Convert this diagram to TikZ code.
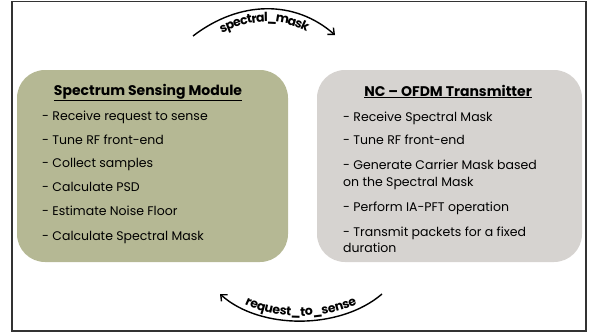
\documentclass[tikz,border=0pt]{standalone}
\usepackage{fontspec}
\setmainfont{Poppins}
\usetikzlibrary{arrows.meta,decorations.text}
\definecolor{olivebox}{HTML}{B5B894}
\definecolor{graybox}{HTML}{D6D3D0}
\definecolor{framegray}{HTML}{333333}
\tikzset{
  modbox/.style={draw=none, rounded corners=28pt},
  body/.style={anchor=base west, inner sep=0pt, font=\fontsize{12.5}{16}\selectfont},
  title/.style={anchor=base, inner sep=0pt, font=\bfseries\fontsize{14}{16}\selectfont},
  arcline/.style={line width=1.4pt, -{Straight Barb[length=5pt,width=9pt,line width=1.4pt]}},
  arctext/.style={decorate, decoration={text along path, text align=center,
     text format delimiters={[}{]}}},
}
\begin{document}
\begin{tikzpicture}[x=1pt,y=1pt]
\useasboundingbox (0,0) rectangle (594,333);
\draw[framegray, line width=1.6pt] (12,2) rectangle (586,331.5);
% boxes
\fill[olivebox, modbox] (17,71) rectangle (288,263);
\fill[graybox, modbox] (317,71) rectangle (582,263);
% titles
\node[title] (t1) at (148,238) {\underline{Spectrum Sensing Module}};
\node[title] (t2) at (448,237) {\underline{NC – OFDM Transmitter}};
% left list
\node[body] (a1) at (42,213) {- Receive request to sense};
\node[body] (a2) at (42,189) {- Tune RF front-end};
\node[body] (a3) at (42,166) {- Collect samples};
\node[body] (a4) at (42,142) {- Calculate PSD};
\node[body] (a5) at (42,118) {- Estimate Noise Floor};
\node[body] (a6) at (42,93) {- Calculate Spectral Mask};
% right list
\node[body] (b1) at (343,212) {- Receive Spectral Mask};
\node[body] (b2) at (343,189) {- Tune RF front-end};
\node[body] (b3) at (343,164) {- Generate Carrier Mask based};
\node[body] (b3b) at (343,147) {on the Spectral Mask};
\node[body] (b4) at (343,122) {- Perform IA-PFT operation};
\node[body] (b5) at (343,97) {- Transmit packets for a fixed};
\node[body] (b5b) at (343,81) {duration};
% arcs
\coordinate (s1) at (193,297);
\coordinate (s2) at (335,298);
\coordinate (r1) at (382,39);
\coordinate (r2) at (220,39);
\draw[arcline] (s1) .. controls (240,333) and (295,333) .. (s2);
\path[arctext, decoration={raise=-13pt,
  text={[\bfseries\fontsize{12.5}{13}\selectfont]spectral{\_}mask}}]
  (s1) .. controls (240,333) and (295,333) .. (s2);
\draw[arcline] (r1) .. controls (340,3) and (260,3) .. (r2);
\path[arctext, decoration={raise=5pt,
  text={[\bfseries\fontsize{12.5}{13}\selectfont]request{\_}to{\_}sense}}]
  (r2) .. controls (260,3) and (340,3) .. (r1);
\end{tikzpicture}
\end{document}
